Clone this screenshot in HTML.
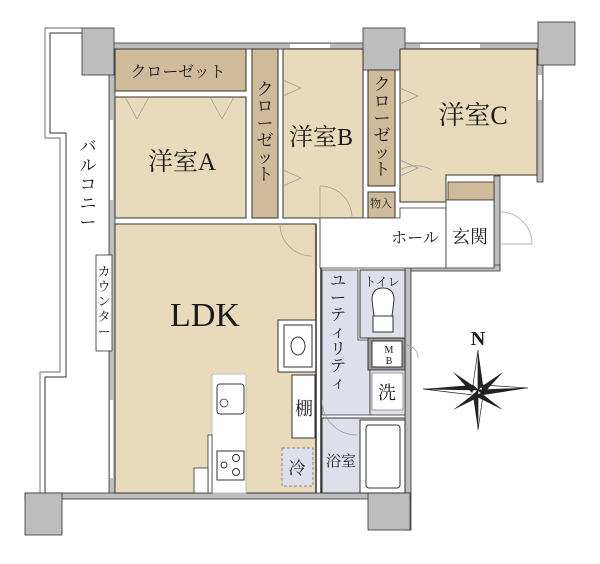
<!DOCTYPE html>
<html><head><meta charset="utf-8"><style>
body{margin:0;background:#fff}
svg text{font-family:"Liberation Serif","Noto Serif CJK SC","Noto Sans CJK JP",serif;fill:#1a1a1a}
</style></head><body>
<svg width="600" height="559" viewBox="0 0 600 559" xmlns="http://www.w3.org/2000/svg">
<polyline points="82,28 45,28 45,138 60,138 60,372 40,372 40,493" fill="none" stroke="#888" stroke-width="1.2"/>
<polyline points="82,33 50,33 50,133 66,133 66,377 45,377 45,493" fill="none" stroke="#333" stroke-width="1"/>
<rect x="109" y="43" width="434" height="6" fill="#bdbdbd" stroke="#333" stroke-width="0.8"/>
<rect x="109" y="49" width="6" height="446" fill="#bdbdbd" stroke="#333" stroke-width="0.8"/>
<rect x="537" y="49" width="6" height="133" fill="#bdbdbd" stroke="#333" stroke-width="0.8"/>
<rect x="494" y="176" width="6" height="94" fill="#bdbdbd" stroke="#333" stroke-width="0.8"/>
<rect x="405" y="265" width="95" height="6" fill="#bdbdbd" stroke="#333" stroke-width="0.8"/>
<rect x="405" y="265" width="6" height="265" fill="#bdbdbd" stroke="#333" stroke-width="0.8"/>
<rect x="25" y="493" width="385" height="6" fill="#bdbdbd" stroke="#333" stroke-width="0.8"/>
<rect x="110" y="120" width="3" height="80" fill="#fff"/>
<rect x="110" y="400" width="3" height="78" fill="#fff"/>
<rect x="420" y="44" width="60" height="4" fill="#fff"/>
<rect x="290" y="44" width="40" height="4" fill="#fff"/>
<rect x="538" y="75" width="4" height="25" fill="#fff"/>
<rect x="82" y="28" width="32" height="47" fill="#bdbdbd" stroke="#333" stroke-width="0.8"/>
<rect x="363" y="28" width="42" height="42" fill="#bdbdbd" stroke="#333" stroke-width="0.8"/>
<rect x="538" y="22" width="37" height="43" fill="#bdbdbd" stroke="#333" stroke-width="0.8"/>
<rect x="25" y="493" width="37" height="42" fill="#bdbdbd" stroke="#333" stroke-width="0.8"/>
<rect x="368" y="493" width="42" height="37" fill="#bdbdbd" stroke="#333" stroke-width="0.8"/>
<rect x="115" y="49" width="131" height="42" fill="#cfbb9a" stroke="#333" stroke-width="1"/>
<rect x="115" y="97" width="131" height="121" fill="#e8dabb" stroke="#333" stroke-width="1"/>
<rect x="252" y="49" width="26" height="169" fill="#cfbb9a" stroke="#333" stroke-width="1"/>
<rect x="283" y="49" width="80" height="169" fill="#e8dabb" stroke="#333" stroke-width="1"/>
<rect x="368" y="70" width="27" height="116" fill="#cfbb9a" stroke="#333" stroke-width="1"/>
<rect x="368" y="192" width="27" height="26" fill="#cfbb9a" stroke="#333" stroke-width="1"/>
<polygon points="400,49 537,49 537,175 446,175 446,202 400,202" fill="#e8dabb" stroke="#333" stroke-width="1"/>
<rect x="448" y="182" width="46" height="18" fill="#cfbb9a" stroke="#333" stroke-width="0.8"/>
<polygon points="320,218 400,218 400,208 446,208 446,268 320,268" fill="#fff" stroke="#333" stroke-width="0.8"/>
<rect x="446" y="200" width="48" height="68" fill="#fff" stroke="#333" stroke-width="0.8"/>
<polygon points="115,224 316,224 316,320 278,320 278,372 316,372 316,493 115,493" fill="#e8dabb" stroke="#333" stroke-width="1"/>
<rect x="284" y="325" width="28" height="42" fill="#fff" stroke="#333" stroke-width="1"/>
<ellipse cx="298" cy="346" rx="7" ry="9" fill="#fff" stroke="#333"/>
<rect x="292" y="375" width="23" height="63" fill="#fff" stroke="#333" stroke-width="1"/>
<rect x="212" y="374" width="34" height="119" fill="#fff" stroke="#bbb" stroke-width="1"/>
<rect x="217" y="384" width="27" height="30" rx="3" fill="#fff" stroke="#333"/>
<circle cx="224" cy="403" r="4" fill="none" stroke="#333" stroke-width="0.8"/>
<rect x="217" y="451" width="27" height="29" fill="#fff" stroke="#333"/>
<circle cx="236" cy="458" r="3.5" fill="none" stroke="#333"/><circle cx="236" cy="472" r="3.5" fill="none" stroke="#333"/><circle cx="224" cy="465" r="3" fill="none" stroke="#333"/>
<rect x="208" y="435" width="4" height="58" fill="#fff" stroke="#333" stroke-width="0.8"/>
<rect x="194" y="468" width="14" height="25" fill="#fff" stroke="#333" stroke-width="0.8"/>
<rect x="282" y="448" width="31" height="38" fill="#dde0ea" stroke="#888" stroke-dasharray="3,2"/>
<rect x="96" y="255" width="16" height="96" fill="#fff" stroke="#333" stroke-width="0.8"/>
<polygon points="322,270 358,270 358,340 370,340 370,415 322,415" fill="#dde0ea" stroke="#333" stroke-width="0.8"/>
<rect x="360" y="270" width="45" height="68" fill="#dde0ea" stroke="#333" stroke-width="1"/>
<path d="M372,300 q0,-12 11,-12 q11,0 11,12 l-2,16 h-18 z" fill="#fff" stroke="#333"/>
<rect x="373" y="316" width="20" height="16" fill="#fff" stroke="#333"/>
<rect x="368" y="338" width="37" height="32" fill="#999" stroke="#333"/>
<rect x="372" y="341" width="30" height="26" fill="#fff" stroke="#333"/>
<rect x="370" y="370" width="35" height="45" fill="#dde0ea" stroke="#333" stroke-width="0.8"/>
<rect x="372" y="373" width="31" height="37" fill="#fff" stroke="#999"/>
<rect x="322" y="418" width="83" height="75" fill="#dde0ea" stroke="#333" stroke-width="1"/>
<rect x="360" y="420" width="45" height="73" fill="#fff" stroke="#333"/>
<rect x="366" y="425" width="34" height="63" rx="3" fill="#fff" stroke="#333"/>
<line x1="316" y1="224" x2="316" y2="493" stroke="#333" stroke-width="1.5"/>
<line x1="321" y1="268" x2="321" y2="493" stroke="#333" stroke-width="1.5"/>
<g fill="none" stroke="#999" stroke-width="0.7">
<path d="M320,186 v32 M320,186 a32,32 0 0 1 32,32"/>
<path d="M400,170 a32,32 0 0 1 32,-0"/>
<path d="M500,212 a32,32 0 0 1 32,32 M500,244 h32"/>
<path d="M405,345 a13,13 0 0 1 13,13"/>
<path d="M280,224 a32,32 0 0 0 32,32"/>
<path d="M125,97 l12,22 l12,-22 M210,97 l12,22 l12,-22"/>
<path d="M283,80 l18,8 l-18,8 M283,170 l18,8 l-18,8 M400,88 l18,8 l-18,8 M400,160 l18,8 l-18,8"/>
<path d="M322,400 a35,35 0 0 0 35,35"/>
</g>
<text x="178" y="77" font-size="16" text-anchor="middle">クローゼット</text>
<text x="182" y="170" font-size="25" text-anchor="middle">洋室A</text>
<text x="321" y="145" font-size="24" text-anchor="middle">洋室B</text>
<text x="473" y="124" font-size="26" text-anchor="middle">洋室C</text>
<text x="205" y="326" font-size="34" text-anchor="middle">LDK</text>
<g font-size="17" text-anchor="middle">
<text x="265" y="95">ク</text><text x="265" y="112">ロ</text><text x="265" y="129">ー</text><text x="265" y="146">ゼ</text><text x="265" y="163">ッ</text><text x="265" y="180">ト</text>
<text x="382" y="90">ク</text><text x="382" y="107">ロ</text><text x="382" y="124">ー</text><text x="382" y="141">ゼ</text><text x="382" y="158">ッ</text><text x="382" y="175">ト</text>
<text x="88" y="152">バ</text><text x="88" y="171">ル</text><text x="88" y="190">コ</text><text x="88" y="209">ニ</text><text x="88" y="228">ー</text>
</g>
<g font-size="13" text-anchor="middle">
<text x="104" y="276">カ</text><text x="104" y="291">ウ</text><text x="104" y="306">ン</text><text x="104" y="321">タ</text><text x="104" y="336">ー</text>
</g>
<g font-size="16" text-anchor="middle">
<text x="338" y="286">ユ</text><text x="338" y="303">ー</text><text x="338" y="320">テ</text><text x="338" y="337">ィ</text><text x="338" y="354">リ</text><text x="338" y="371">テ</text><text x="338" y="388">ィ</text>
</g>
<text x="381" y="207" font-size="11" text-anchor="middle">物入</text>
<text x="415" y="243" font-size="16" text-anchor="middle">ホール</text>
<text x="470" y="243" font-size="18" text-anchor="middle">玄関</text>
<text x="382" y="286" font-size="12" text-anchor="middle">トイレ</text>
<text x="389" y="353" font-size="10" text-anchor="middle">M</text>
<text x="389" y="364" font-size="10" text-anchor="middle">B</text>
<text x="387" y="399" font-size="18" text-anchor="middle">洗</text>
<text x="304" y="415" font-size="18" text-anchor="middle">棚</text>
<text x="297" y="474" font-size="17" text-anchor="middle">冷</text>
<text x="341" y="466" font-size="15" text-anchor="middle">浴室</text>
<text x="478" y="345" font-size="20" font-weight="bold" text-anchor="middle">N</text>
<g transform="translate(478,390)">
<polygon points="0,-40 5,-5 0,0" fill="#222"/><polygon points="0,-40 -5,-5 0,0" fill="#fff" stroke="#222" stroke-width="0.7"/>
<polygon points="0,40 -5,5 0,0" fill="#222"/><polygon points="0,40 5,5 0,0" fill="#fff" stroke="#222" stroke-width="0.7"/>
<polygon points="-55,-1 -5,-5 0,0" fill="#222"/><polygon points="-55,-1 -5,5 0,0" fill="#fff" stroke="#222" stroke-width="0.7"/>
<polygon points="50,-2 5,5 0,0" fill="#222"/><polygon points="50,-2 5,-5 0,0" fill="#fff" stroke="#222" stroke-width="0.7"/>
<polygon points="-25,-18 -3,-3 -6,3" fill="#222"/><polygon points="25,-18 3,-3 6,3" fill="#222"/>
<polygon points="-25,20 -3,3 3,6" fill="#222"/><polygon points="25,20 3,3 -3,6" fill="#222"/>
</g>
</svg>
</body></html>
